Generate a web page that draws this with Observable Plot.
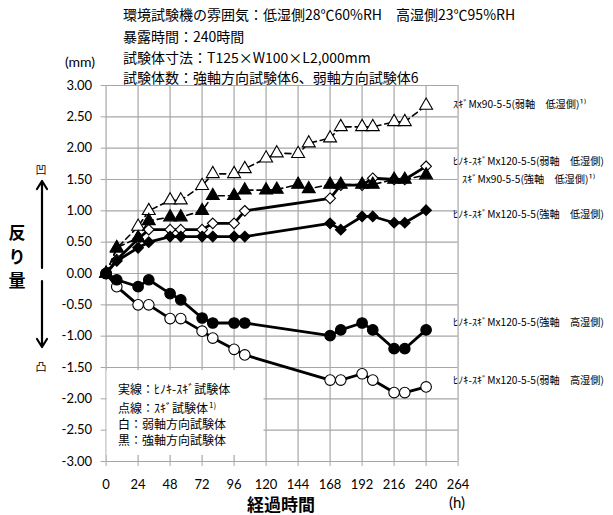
<!DOCTYPE html>
<html><head><meta charset="utf-8">
<script src="https://cdn.jsdelivr.net/npm/d3@7"></script>
<script src="https://cdn.jsdelivr.net/npm/@observablehq/plot@0.6"></script>
<style>
html,body{margin:0;padding:0;background:#fff;}
#chart{position:relative;width:613px;height:515px;}
</style></head><body><div id="chart"></div>
<script>
// ---- data ----
const hsTimes   = [0,8,24,32,48,56,72,80,96,104,168,176,192,200,216,224,240];
const sugiTimes = [0,8,24,32,48,56,72,80,96,104,120,128,144,152,168,176,192,200,216,224,240];

const hsWeakHigh   = [0,-0.21,-0.50,-0.50,-0.72,-0.72,-0.92,-1.03,-1.21,-1.30,-1.70,-1.70,-1.60,-1.70,-1.90,-1.90,-1.81];
const hsStrongHigh = [0,-0.10,-0.21,-0.10,-0.32,-0.42,-0.71,-0.79,-0.79,-0.79,-0.99,-0.90,-0.79,-0.90,-1.20,-1.20,-0.90];
const hsWeakLow    = [0,0.22,0.55,0.70,0.70,0.70,0.70,0.80,0.80,1.00,1.20,1.41,1.41,1.52,1.50,1.50,1.71];
const hsStrongLow  = [0,0.20,0.41,0.50,0.59,0.59,0.59,0.59,0.59,0.59,0.80,0.70,0.91,0.91,0.81,0.81,1.01];
const sugiWeakLow  = [0,0.40,0.75,1.00,1.17,1.17,1.40,1.59,1.59,1.67,1.84,1.92,1.91,2.08,2.16,2.34,2.34,2.34,2.42,2.42,2.68];
const sugiStrongLow= [0,0.41,0.57,0.84,0.90,0.90,1.00,1.24,1.24,1.33,1.33,1.34,1.42,1.35,1.42,1.42,1.42,1.42,1.50,1.50,1.57];

const xTicks = [0,24,48,72,96,120,144,168,192,216,240,264];
const yTicks = [-3,-2.5,-2,-1.5,-1,-0.5,0,0.5,1,1.5,2,2.5,3];

const labelTexts = [
  "ｽｷﾞMx90-5-5(弱軸　低湿側)¹⁾",
  "ﾋﾉｷ-ｽｷﾞMx120-5-5(弱軸　低湿側)",
  "ｽｷﾞMx90-5-5(強軸　低湿側)¹⁾",
  "ﾋﾉｷ-ｽｷﾞMx120-5-5(強軸　低湿側)",
  "ﾋﾉｷ-ｽｷﾞMx120-5-5(強軸　高湿側)",
  "ﾋﾉｷ-ｽｷﾞMx120-5-5(弱軸　高湿側)"
];
const labelValues = [2.70, 1.79, 1.50, 0.93, -0.78, -1.71];

const titleLines = [
  "環境試験機の雰囲気：低湿側28℃60%RH　高湿側23℃95%RH",
  "暴露時間：240時間",
  "試験体寸法：T125×W100×L2,000mm",
  "試験体数：強軸方向試験体6、弱軸方向試験体6"
];

// ---- series table ----
const series = [
  {name:"hsWeakHigh",   t:hsTimes,   v:hsWeakHigh,   symbol:"circle",   fill:"white", dashed:false},
  {name:"hsStrongHigh", t:hsTimes,   v:hsStrongHigh, symbol:"circle",   fill:"black", dashed:false},
  {name:"hsWeakLow",    t:hsTimes,   v:hsWeakLow,    symbol:"diamond2", fill:"white", dashed:false},
  {name:"hsStrongLow",  t:hsTimes,   v:hsStrongLow,  symbol:"diamond2", fill:"black", dashed:false},
  {name:"sugiWeakLow",  t:sugiTimes, v:sugiWeakLow,  symbol:"triangle", fill:"white", dashed:true},
  {name:"sugiStrongLow",t:sugiTimes, v:sugiStrongLow,symbol:"triangle", fill:"black", dashed:true}
];

const gridColor = "#a6a6a6";
const marks = [
  Plot.gridX({ticks:xTicks, stroke:gridColor, strokeOpacity:1, strokeWidth:1.2}),
  Plot.gridY({ticks:yTicks, stroke:gridColor, strokeOpacity:1, strokeWidth:1.2}),
  Plot.axisY({ticks:yTicks, tickFormat:d=>d.toFixed(2), tickSize:5, tickPadding:9, stroke:gridColor, label:null, fontSize:13}),
  Plot.axisX({ticks:xTicks, tickFormat:d=>String(d), tickSize:5, tickPadding:13, stroke:gridColor, label:null, fontSize:13})
];
const symR = {circle:5.3, diamond2:4.8, triangle:4.8};
for (const s of series) {
  const rows = s.t.map((t,i)=>({t, v:s.v[i]}));
  marks.push(Plot.line(rows, {x:"t", y:"v", stroke:"black",
    strokeWidth: s.dashed ? 1.6 : 2.8,
    strokeDasharray: s.dashed ? "6,4" : null}));
  marks.push(Plot.dot(rows, {x:"t", y:"v", symbol:s.symbol, r:symR[s.symbol],
    fill:s.fill, stroke:"black", strokeWidth:1.1}));
}
const labelRows = labelTexts.map((text,i)=>({text, v:labelValues[i], x:264}));
marks.push(Plot.text(labelRows.filter((d,i)=>i!==2), {x:"x", y:"v", text:"text", textAnchor:"start", dx:-5,
  fontSize:10.2, fontFamily:"'Noto Sans CJK JP', sans-serif", fill:"black"}));
marks.push(Plot.text(labelRows.filter((d,i)=>i===2), {x:"x", y:"v", text:"text", textAnchor:"start", dx:4,
  fontSize:10.2, fontFamily:"'Noto Sans CJK JP', sans-serif", fill:"black"}));

const chart = Plot.plot({
  width:613, height:515,
  marginLeft:105.6, marginRight:155.4, marginTop:85, marginBottom:54,
  x:{domain:[0,264]},
  y:{domain:[-3,3]},
  style:{fontFamily:"Lato, sans-serif", fontSize:"13px", color:"black", background:"white", overflow:"visible"},
  marks
});
document.getElementById("chart").appendChild(chart);

// ---- annotations ----
const svg = d3.select(chart);
const jp = "'Noto Sans CJK JP', sans-serif";
const tg = svg.append("g").attr("font-family", jp).attr("font-size", 14).attr("fill", "black").attr("text-anchor","start");
const titleY = [15, 36.7, 58.3, 78.3];
titleLines.forEach((s,i)=>tg.append("text").attr("x",123).attr("y",titleY[i]).attr("dy","0.35em").text(s));

svg.append("text").attr("x",80).attr("y",62).attr("dy","0.35em").attr("text-anchor","middle")
  .attr("font-family","Lato, sans-serif").attr("font-size",14).text("(mm)");

// vertical label
["反","り","量"].forEach((c,i)=>svg.append("text").attr("x",17).attr("y",233+i*24).attr("dy","0.35em")
  .attr("text-anchor","middle").attr("font-family",jp).attr("font-weight","bold").attr("font-size",17).text(c));

svg.append("text").attr("x",41).attr("y",170).attr("dy","0.35em").attr("text-anchor","middle")
  .attr("font-family",jp).attr("font-size",11).text("凹");
svg.append("text").attr("x",41).attr("y",367).attr("dy","0.35em").attr("text-anchor","middle")
  .attr("font-family",jp).attr("font-size",11).text("凸");

const ag = svg.append("g").attr("stroke","black").attr("stroke-width",2.2).attr("fill","none").attr("stroke-linecap","round").attr("stroke-linejoin","round");
ag.append("path").attr("d","M42,268 V182 M37,189 L42,181 L47,189");
ag.append("path").attr("d","M42,281 V346 M37,339 L42,347 L47,339");

// axis titles
svg.append("text").attr("x",281).attr("y",505).attr("dy","0.35em").attr("text-anchor","middle")
  .attr("font-family",jp).attr("font-weight","bold").attr("font-size",17).text("経過時間");
svg.append("text").attr("x",457).attr("y",503).attr("dy","0.35em").attr("text-anchor","middle")
  .attr("font-family","Lato, sans-serif").attr("font-size",15).text("(h)");

// inset legend box
const lg = svg.append("g").attr("font-family",jp).attr("font-size",12).attr("fill","black").attr("text-anchor","start");
lg.append("rect").attr("x",106.5).attr("y",370).attr("width",157).attr("height",85).attr("fill","white");
const legendLines = [["実線：ﾋﾉｷ-ｽｷﾞ試験体",""],["点線：ｽｷﾞ試験体","1)"],["白：弱軸方向試験体",""],["黒：強軸方向試験体",""]];
const legendY = [389.5, 408.5, 424.5, 440.5];
legendLines.forEach(([s,sup],i)=>{
  const t = lg.append("text").attr("x",118).attr("y",legendY[i]).attr("dy","0.35em").text(s);
  if (sup) t.append("tspan").attr("font-size",8).attr("dy","-0.6em").attr("dx","1").text(sup);
});
</script></body></html>
